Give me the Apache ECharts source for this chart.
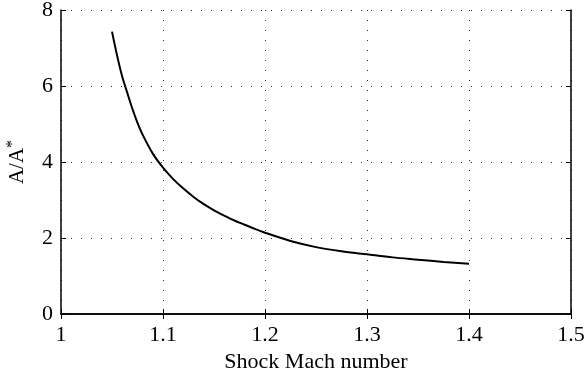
<!DOCTYPE html>
<html>
<head>
<meta charset="utf-8">
<script src="https://cdn.jsdelivr.net/npm/echarts@6/dist/echarts.min.js"></script>
<style>
  html, body { margin: 0; padding: 0; background: #fff; }
  #chart { width: 584px; height: 376px; }
</style>
</head>
<body>
<div id="chart"></div>
<script>
// Shock Mach number and the area ratio A/A*
const machNumbers = [1.05, 1.055, 1.06, 1.065, 1.07, 1.075, 1.08, 1.09, 1.10, 1.11, 1.12,
  1.13, 1.14, 1.15, 1.16, 1.17, 1.18, 1.19, 1.20, 1.225, 1.25, 1.275, 1.30, 1.325, 1.35, 1.375, 1.40];
const areaRatio = [7.43, 6.80, 6.25, 5.82, 5.40, 5.03, 4.72, 4.22, 3.85, 3.55, 3.30,
  3.08, 2.89, 2.73, 2.59, 2.46, 2.35, 2.24, 2.14, 1.92, 1.76, 1.65, 1.57, 1.49, 1.43, 1.37, 1.32];
const xTicks = [1, 1.1, 1.2, 1.3, 1.4, 1.5];
const yTicks = [0, 2, 4, 6, 8];

const font = '"Liberation Serif", "DejaVu Serif", serif';
const chart = echarts.init(document.getElementById('chart'));

const gridDots = { color: '#333', width: 1, type: [1, 9] };
const edge = { show: true, lineStyle: { color: '#000', width: 1.5 } };
const innerTick = { show: true, inside: true, length: 5, lineStyle: { color: '#000', width: 1 } };

chart.setOption({
  animation: false,
  grid: { left: 61, right: 13, top: 10, bottom: 62, outerBoundsMode: 'none', containLabel: false },
  xAxis: [{
    type: 'value', min: xTicks[0], max: xTicks[xTicks.length - 1], interval: 0.1,
    name: 'Shock Mach number', nameLocation: 'middle', nameGap: 32,
    nameTextStyle: { fontFamily: font, fontSize: 22, color: '#000' },
    axisLine: edge, axisTick: innerTick,
    axisLabel: { fontFamily: font, fontSize: 22, color: '#000', margin: 10,
      formatter: v => String(Math.round(v * 10) / 10) },
    splitLine: { show: true, lineStyle: gridDots }
  }, {
    type: 'value', position: 'top', min: xTicks[0], max: xTicks[xTicks.length - 1], interval: 0.1,
    axisLine: edge, axisTick: innerTick, axisLabel: { show: false }, splitLine: { show: false }
  }],
  yAxis: [{
    type: 'value', min: yTicks[0], max: yTicks[yTicks.length - 1], interval: 2,
    name: 'A/A{sup|*}', nameLocation: 'middle', nameGap: 32, nameRotate: 90,
    nameTextStyle: { fontFamily: font, fontSize: 21, color: '#000',
      rich: { sup: { fontFamily: font, fontSize: 16, color: '#000', verticalAlign: 'top', padding: [0, 0, 8, 0] } } },
    axisLine: edge, axisTick: innerTick,
    axisLabel: { fontFamily: font, fontSize: 22, color: '#000', margin: 8 },
    splitLine: { show: true, lineStyle: gridDots }
  }, {
    type: 'value', position: 'right', min: yTicks[0], max: yTicks[yTicks.length - 1], interval: 2,
    axisLine: edge, axisTick: innerTick, axisLabel: { show: false }, splitLine: { show: false }
  }],
  series: [{
    type: 'line',
    data: machNumbers.map((m, i) => [m, areaRatio[i]]),
    smooth: 0.3,
    showSymbol: false,
    lineStyle: { color: '#000', width: 2 }
  }]
});
</script>
</body>
</html>
